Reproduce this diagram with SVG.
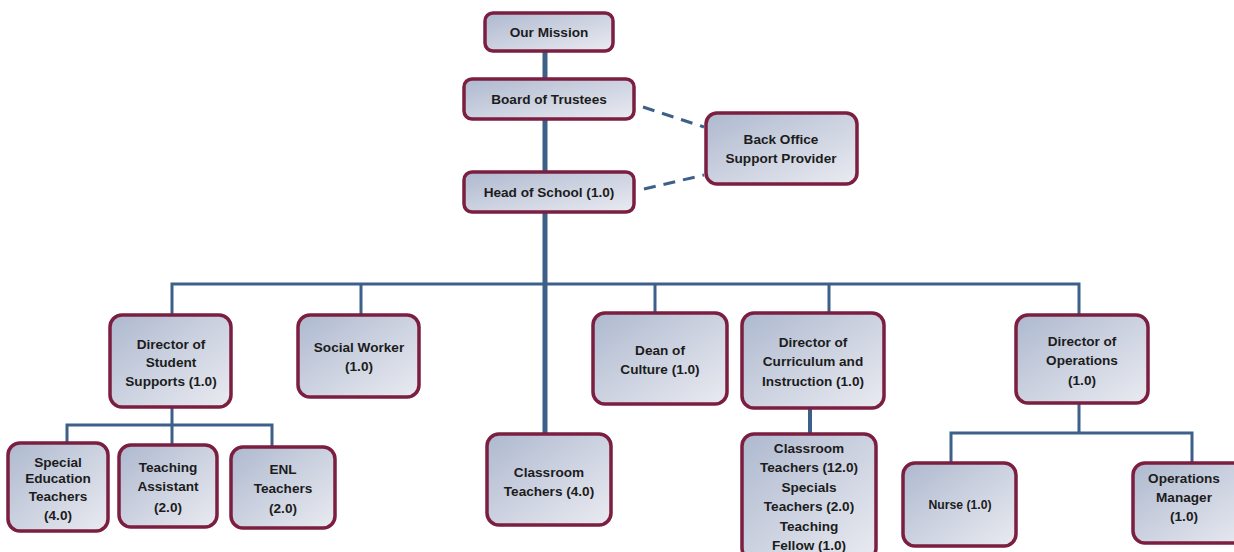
<svg xmlns="http://www.w3.org/2000/svg" width="1234" height="552" viewBox="0 0 1234 552">
<defs>
<linearGradient id="g" x1="0" y1="0" x2="1" y2="1">
<stop offset="0" stop-color="#aeb9cf"/>
<stop offset="1" stop-color="#eaebf1"/>
</linearGradient>
<style>
.box{fill:url(#g);stroke:#7b1e40;stroke-width:3.5}
.t{font-family:"Liberation Sans",Arial,sans-serif;font-weight:bold;font-size:13.6px;fill:#1c1c1c;text-anchor:middle}
.s{font-size:12.2px}
.ln{stroke:#3d6089;fill:none;stroke-linecap:butt}
</style>
</defs>
<rect width="1234" height="552" fill="#ffffff"/>
<g id="connectors">
<path class="ln" stroke-width="5" d="M545 51V434"/>
<path class="ln" stroke-width="3" d="M172 315V284H1079V315M361 284V315M655 284V313M829 284V313"/>
<path class="ln" stroke-width="4" d="M810 408V434"/>
<path class="ln" stroke-width="3" d="M172 407V425M67 443V425H272V447M172 425V445"/>
<path class="ln" stroke-width="3" d="M1079 403V433M951 463V433H1192V463"/>
<path class="ln" stroke-width="3" stroke-dasharray="12 8" d="M643 107L704 127M644 189L704 175"/>
</g>
<g id="our-mission"><rect class="box" x="485" y="13" width="128" height="38" rx="8"/><text class="t" x="549" y="37">Our Mission</text></g>
<g id="board"><rect class="box" x="464" y="79" width="170" height="40" rx="8"/><text class="t" x="549" y="104">Board of Trustees</text></g>
<g id="head"><rect class="box" x="464" y="172" width="170" height="40" rx="8"/><text class="t" x="549" y="197">Head of School (1.0)</text></g>
<g id="back-office"><rect class="box" x="706" y="113" width="151" height="71" rx="11"/><text class="t" x="781" y="144">Back Office</text><text class="t" x="781" y="163">Support Provider</text></g>
<g id="dir-student"><rect class="box" x="110" y="315" width="121" height="92" rx="12"/><text class="t" x="171" y="349">Director of</text><text class="t" x="171" y="367">Student</text><text class="t" x="171" y="386">Supports (1.0)</text></g>
<g id="social-worker"><rect class="box" x="298" y="315" width="121" height="82" rx="12"/><text class="t" x="359" y="352">Social Worker</text><text class="t" x="359" y="371">(1.0)</text></g>
<g id="dean"><rect class="box" x="593" y="313" width="134" height="91" rx="12"/><text class="t" x="660" y="355">Dean of</text><text class="t" x="660" y="374">Culture (1.0)</text></g>
<g id="dir-curriculum"><rect class="box" x="742" y="313" width="142" height="95" rx="12"/><text class="t" x="813" y="347">Director of</text><text class="t" x="813" y="366">Curriculum and</text><text class="t" x="813" y="386">Instruction (1.0)</text></g>
<g id="dir-operations"><rect class="box" x="1016" y="315" width="132" height="88" rx="12"/><text class="t" x="1082" y="346">Director of</text><text class="t" x="1082" y="365">Operations</text><text class="t" x="1082" y="385">(1.0)</text></g>
<g id="classroom-4"><rect class="box" x="487" y="434" width="124" height="91" rx="12"/><text class="t" x="549" y="477">Classroom</text><text class="t" x="549" y="496">Teachers (4.0)</text></g>
<g id="classroom-12"><rect class="box" x="742" y="434" width="134" height="126" rx="12"/><text class="t" x="809" y="453">Classroom</text><text class="t" x="809" y="472">Teachers (12.0)</text><text class="t" x="809" y="492">Specials</text><text class="t" x="809" y="511">Teachers (2.0)</text><text class="t" x="809" y="531">Teaching</text><text class="t" x="809" y="550">Fellow (1.0)</text></g>
<g id="special-ed"><rect class="box" x="8" y="443" width="100" height="88" rx="12"/><text class="t" x="58" y="467">Special</text><text class="t" x="58" y="483">Education</text><text class="t" x="58" y="501">Teachers</text><text class="t" x="58" y="520">(4.0)</text></g>
<g id="teaching-assistant"><rect class="box" x="119" y="445" width="98" height="82" rx="12"/><text class="t" x="168" y="472">Teaching</text><text class="t" x="168" y="491">Assistant</text><text class="t" x="168" y="512">(2.0)</text></g>
<g id="enl"><rect class="box" x="231" y="447" width="104" height="81" rx="12"/><text class="t" x="283" y="474">ENL</text><text class="t" x="283" y="493">Teachers</text><text class="t" x="283" y="513">(2.0)</text></g>
<g id="nurse"><rect class="box" x="903" y="463" width="113" height="83" rx="12"/><text class="t s" x="960" y="509">Nurse (1.0)</text></g>
<g id="ops-manager"><rect class="box" x="1133" y="463" width="120" height="80" rx="12"/><text class="t" x="1184" y="483">Operations</text><text class="t" x="1184" y="502">Manager</text><text class="t" x="1184" y="521">(1.0)</text></g>
</svg>
